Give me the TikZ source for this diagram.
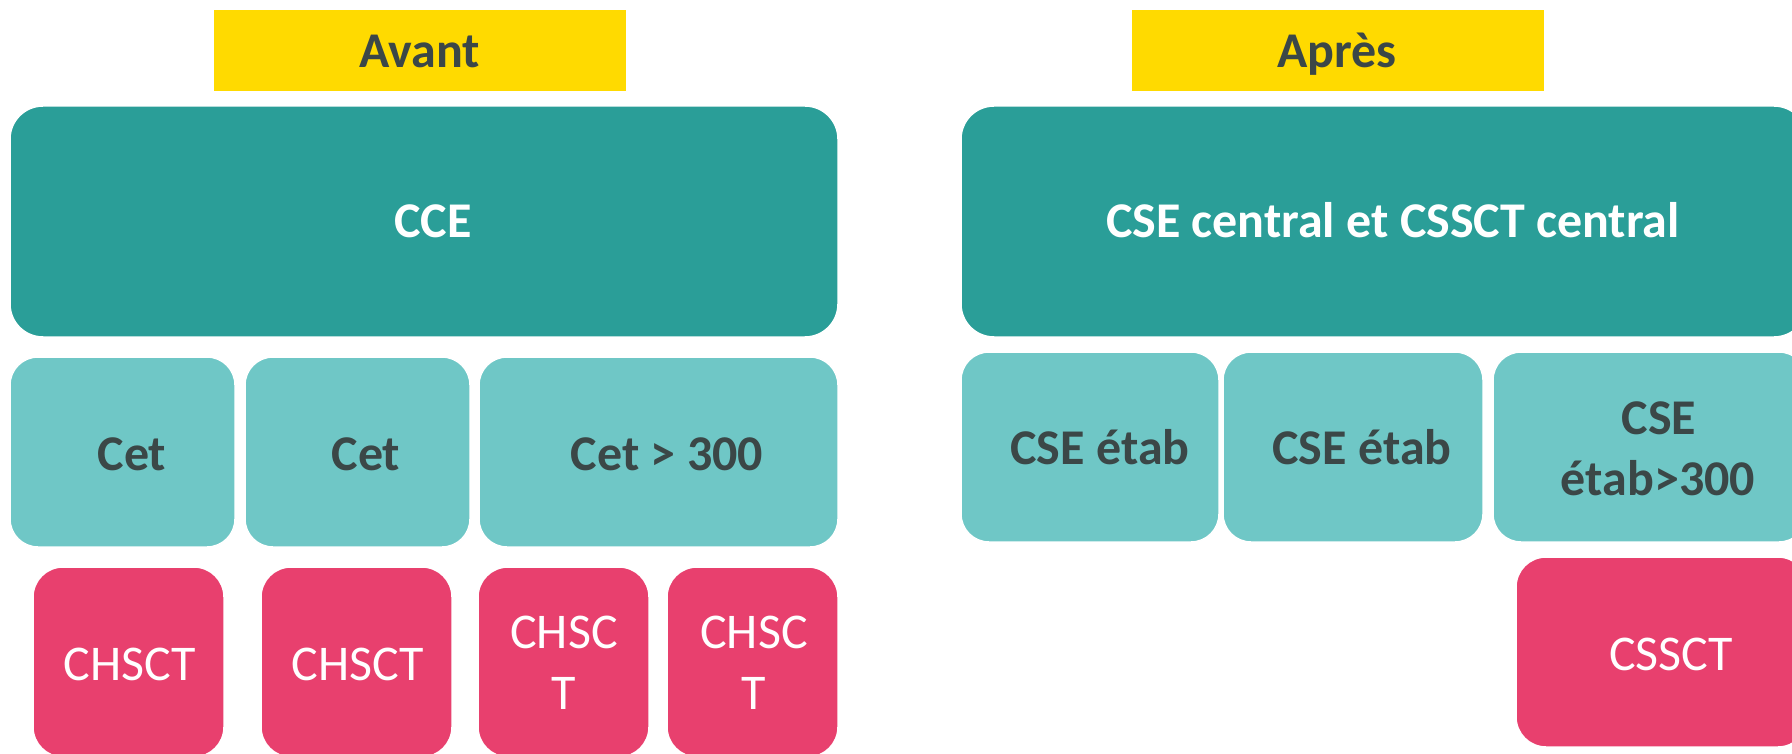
\documentclass[tikz,border=0pt]{standalone}
\usepackage{fontspec}
\setmainfont{Carlito}
\definecolor{ybox}{HTML}{FFDA00}
\definecolor{dteal}{HTML}{2A9E98}
\definecolor{lteal}{HTML}{6FC7C6}
\definecolor{pinkc}{HTML}{E8406E}
\definecolor{darktxt}{HTML}{3B4747}
\begin{document}
\begin{tikzpicture}[x=1pt,y=-1pt,
  box/.style={rounded corners=30pt, draw=white, line width=1.5pt, inner sep=0pt, outer sep=0pt},
  headbox/.style={fill=ybox, inner sep=0pt, outer sep=0pt, minimum width=412pt, minimum height=81pt},
  bigbox/.style={box, fill=dteal, rounded corners=33pt, minimum height=231pt},
  midbox/.style={box, fill=lteal, rounded corners=28pt, minimum height=190pt},
  lowbox/.style={box, fill=pinkc, minimum height=190pt},
  tdark/.style={anchor=base, inner sep=0pt, text=darktxt, font=\bfseries\fontsize{50}{61}\selectfont},
  twhiteb/.style={anchor=base, inner sep=0pt, text=white, font=\bfseries\fontsize{50}{61}\selectfont},
  twhite/.style={anchor=base, inner sep=0pt, text=white, font=\fontsize{50}{61}\selectfont}]
\useasboundingbox (0,0) rectangle (1792,754);
\clip (0,0) rectangle (1792,754);
% headers
\node[headbox] (avant) at (420,50.5) {};
\node[headbox] (apres) at (1338,50.5) {};
\node[tdark] (tavant) at (420,68) {Avant};
\node[tdark] (tapres) at (1337,68) {Après};
% top boxes
\node[bigbox, minimum width=828pt] (cce) at (424,221.5) {};
\node[bigbox, minimum width=846pt] (csec) at (1384,221.5) {};
\node[twhiteb] (tcce) at (433,238) {CCE};
\node[twhiteb] (tcsec) at (1393,238) {CSE central et CSSCT central};
% middle boxes left
\node[midbox, minimum width=225pt] (cet1) at (122.5,452) {};
\node[midbox, minimum width=225pt] (cet2) at (357.5,452) {};
\node[midbox, minimum width=359pt] (cet3) at (658.5,452) {};
\node[tdark] (tcet1) at (132,470) {Cet};
\node[tdark] (tcet2) at (366,470) {Cet};
\node[tdark] (tcet3) at (667,470) {Cet > 300};
% middle boxes right
\node[midbox, minimum width=258pt] (cse1) at (1090,447) {};
\node[midbox, minimum width=260pt] (cse2) at (1353,447) {};
\node[midbox, minimum width=314pt] (cse3) at (1650,447) {};
\node[tdark] (tcse1) at (1100,464) {CSE étab};
\node[tdark] (tcse2) at (1362,464) {CSE étab};
\node[tdark] (tcse3a) at (1659,434) {CSE};
\node[tdark] (tcse3b) at (1658,495) {étab>300};
% lower boxes left
\node[lowbox, minimum width=191pt] (chs1) at (128.5,662) {};
\node[lowbox, minimum width=191pt] (chs2) at (356.5,662) {};
\node[lowbox, minimum width=171pt] (chs3) at (563.5,662) {};
\node[lowbox, minimum width=171pt] (chs4) at (752.5,662) {};
\node[twhite] (tchs1) at (130,680) {CHSCT};
\node[twhite] (tchs2) at (358,680) {CHSCT};
\node[twhite] (tchs3a) at (564,648) {CHSC};
\node[twhite] (tchs3b) at (564,709) {T};
\node[twhite] (tchs4a) at (754,648) {CHSC};
\node[twhite] (tchs4b) at (754,709) {T};
% lower box right
\node[lowbox, minimum width=292pt] (cssct) at (1662,652) {};
\node[twhite] (tcssct) at (1671,670) {CSSCT};
\end{tikzpicture}
\end{document}
